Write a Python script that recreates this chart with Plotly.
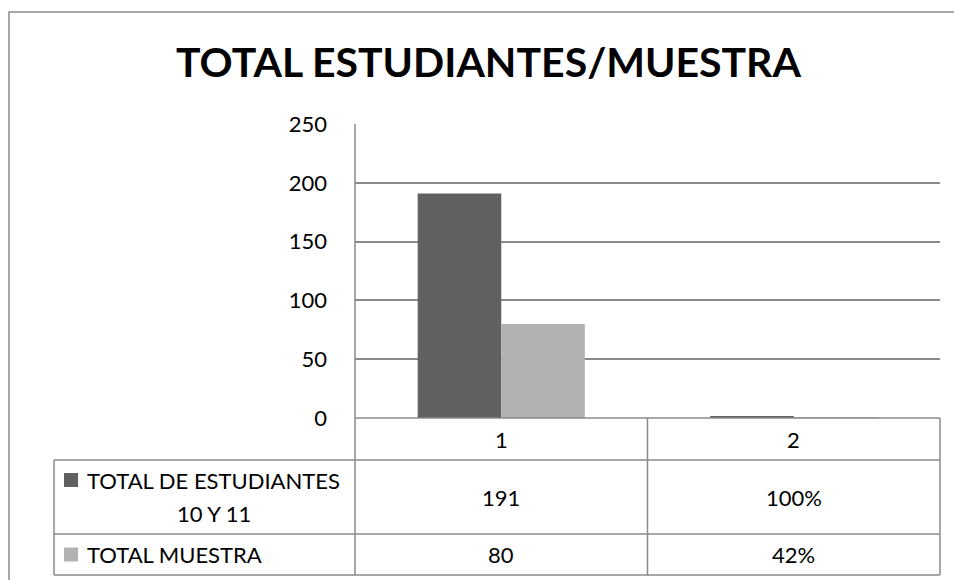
import plotly.graph_objects as go

# ---- data ----
categories = ["1", "2"]
series_names = ["TOTAL DE ESTUDIANTES<br>10 Y 11", "TOTAL MUESTRA"]
estudiantes = [191, 1.00]
muestra = [80, 0.42]
table_formats = ["{:.0f}", "{:.0%}"]
y_ticks = [0, 50, 100, 150, 200, 250]
title_text = "TOTAL ESTUDIANTES/MUESTRA"

colors = ["#606060", "#b2b2b2"]
W, H = 954, 580
FONT = "Lato, Open Sans, sans-serif"
LINE = "#8a8a8a"
FS = 22

def px(x):
    return x / W

def py(y):
    return 1 - y / H

X0, X1 = 355, 940       # plot area left/right
Y0, Y250 = 418, 124     # y of value 0 and 250
TL = 54                 # table left
ROWS = [418, 460, 534, 575]

fig = go.Figure()
for name, vals, c in zip(series_names, [estudiantes, muestra], colors):
    fig.add_trace(go.Bar(x=categories, y=vals, name=name, marker=dict(color=c, line=dict(width=0))))

shapes = []
def hline(y, xa, xb):
    shapes.append(dict(type="line", xref="paper", yref="paper", x0=px(xa), x1=px(xb), y0=py(y), y1=py(y),
                       line=dict(color=LINE, width=1.5)))
def vline(x, ya, yb):
    shapes.append(dict(type="line", xref="paper", yref="paper", x0=px(x), x1=px(x), y0=py(ya), y1=py(yb),
                       line=dict(color=LINE, width=1.5)))

# outer chart border
shapes.append(dict(type="rect", xref="paper", yref="paper", x0=px(9), x1=px(W + 20), y0=py(12), y1=py(H + 20),
                   line=dict(color="#8c8c8c", width=1.5)))
# axis + table
vline(X0, Y250, ROWS[-1])
hline(ROWS[0], X0, X1)
for y in ROWS[1:]:
    hline(y, TL, X1)
vline(TL, ROWS[1], ROWS[-1])
col_w = (X1 - X0) / len(categories)
for i in range(1, len(categories) + 1):
    vline(X0 + col_w * i, ROWS[0], ROWS[-1])

def txt(text, x, y, size=FS, xanchor="center", align="center", bold=False):
    return dict(text=f"<b>{text}</b>" if bold else text, xref="paper", yref="paper", x=px(x), y=py(y),
                showarrow=False, xanchor=xanchor, yanchor="middle", align=align,
                font=dict(family=FONT, size=size, color="#000"))

annotations = [txt(title_text, 488, 62, size=41, bold=True)]
# category header
for i, cat in enumerate(categories):
    annotations.append(txt(cat, X0 + col_w * (i + 0.5), (ROWS[0] + ROWS[1]) / 2))
# rows
for r, (name, vals, c) in enumerate(zip(series_names, [estudiantes, muestra], colors)):
    yc = (ROWS[r + 1] + ROWS[r + 2]) / 2
    for i, v in enumerate(vals):
        annotations.append(txt(table_formats[i].format(v), X0 + col_w * (i + 0.5), yc))
    lines = name.split("<br>")
    if len(lines) > 1:
        annotations.append(txt(lines[0], 85, yc - 16.5, xanchor="left", align="left"))
        annotations.append(txt(lines[1], 214, yc + 16))
        ky = yc - 17
    else:
        annotations.append(txt(name, 85, yc, xanchor="left", align="left"))
        ky = yc
    shapes.append(dict(type="rect", xref="paper", yref="paper", x0=px(64), x1=px(78),
                       y0=py(ky - 7), y1=py(ky + 7), line=dict(width=0), fillcolor=c))

fig.update_layout(
    width=W, height=H, margin=dict(l=0, r=0, t=0, b=0, autoexpand=False),
    paper_bgcolor="white", plot_bgcolor="white",
    barmode="group", bargap=0.4286, bargroupgap=0,
    showlegend=False,
    shapes=shapes, annotations=annotations,
    xaxis=dict(domain=[px(X0), px(X1)], range=[-0.5, 1.5], showticklabels=False, showgrid=False,
               zeroline=False, showline=False, automargin=False),
    yaxis=dict(domain=[py(Y0), py(Y250)], range=[0, 250], tickvals=y_ticks, showgrid=True,
               gridcolor=LINE, gridwidth=1.5, zeroline=False, showline=False, automargin=False,
               ticklabelstandoff=27, tickfont=dict(family=FONT, size=FS, color="#000")),
)

fig.write_html("out.html", config={"displayModeBar": False},
               post_script="document.body.style.margin='0';")
